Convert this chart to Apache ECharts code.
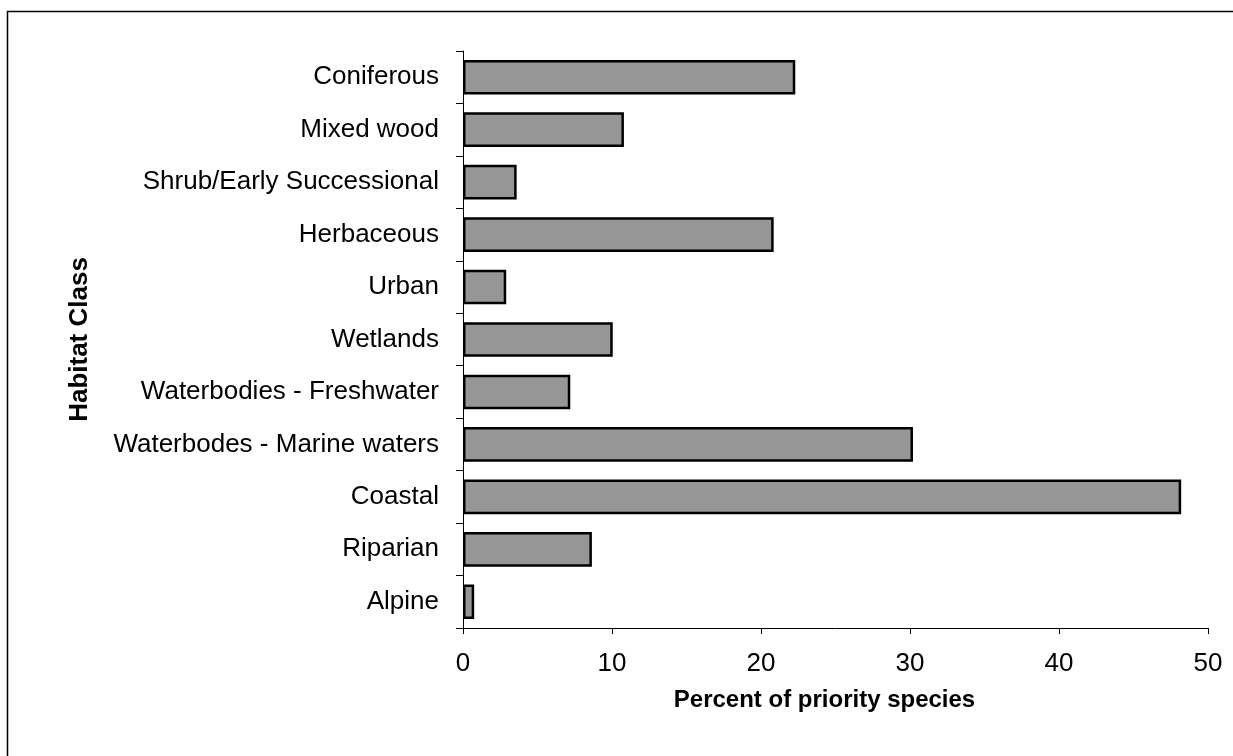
<!DOCTYPE html>
<html>
<head>
<meta charset="utf-8">
<script src="https://cdn.jsdelivr.net/npm/echarts@6/dist/echarts.min.js"></script>
<style>
  html, body { margin: 0; padding: 0; background: #fff; }
  #chart { width: 1233px; height: 756px; }
</style>
</head>
<body>
<div id="chart"></div>
<script>
// habitat classes, top to bottom
var habitats = ['Coniferous', 'Mixed wood', 'Shrub/Early Successional', 'Herbaceous', 'Urban',
  'Wetlands', 'Waterbodies - Freshwater', 'Waterbodes - Marine waters', 'Coastal', 'Riparian', 'Alpine']
// percent of priority species per habitat
var percents = [22.3, 10.8, 3.6, 20.85, 2.9, 10.05, 7.2, 30.2, 48.2, 8.65, 0.75]

var font = '"Liberation Sans", Arial, sans-serif'

var myChart = echarts.init(document.getElementById('chart'))
myChart.setOption({
  animation: false,
  backgroundColor: '#fff',
  graphic: [
    {
      type: 'rect',
      shape: { x: 7.5, y: 11.5, width: 1300, height: 800 },
      style: { fill: 'none', stroke: '#000', lineWidth: 1.5 },
      silent: true
    }
  ],
  grid: { left: 463, right: 25, top: 51, bottom: 128, containLabel: false },
  xAxis: {
    type: 'value',
    min: 0,
    max: 50,
    interval: 10,
    name: 'Percent of priority species',
    nameLocation: 'middle',
    nameGap: 60,
    nameTextStyle: { fontFamily: font, fontSize: 24, fontWeight: 'bold', color: '#000', padding: [0, 22, 0, 0] },
    axisLine: { show: true, lineStyle: { color: '#000', width: 1 } },
    axisTick: { show: true, length: 6, lineStyle: { color: '#000' } },
    axisLabel: { fontFamily: font, fontSize: 26, color: '#000', margin: 23 },
    splitLine: { show: false }
  },
  yAxis: {
    type: 'category',
    inverse: true,
    data: habitats,
    name: 'Habitat Class',
    nameLocation: 'middle',
    nameGap: 370,
    nameTextStyle: { fontFamily: font, fontSize: 26, fontWeight: 'bold', color: '#000' },
    axisLine: { show: true, lineStyle: { color: '#000', width: 1 } },
    axisTick: { show: true, length: 7, lineStyle: { color: '#000' } },
    axisLabel: { fontFamily: font, fontSize: 26, color: '#000', margin: 24 }
  },
  series: [
    {
      type: 'bar',
      data: percents,
      barWidth: '66%',
      itemStyle: { color: '#969696', borderColor: '#000', borderWidth: 2.5 }
    }
  ]
})
</script>
</body>
</html>
